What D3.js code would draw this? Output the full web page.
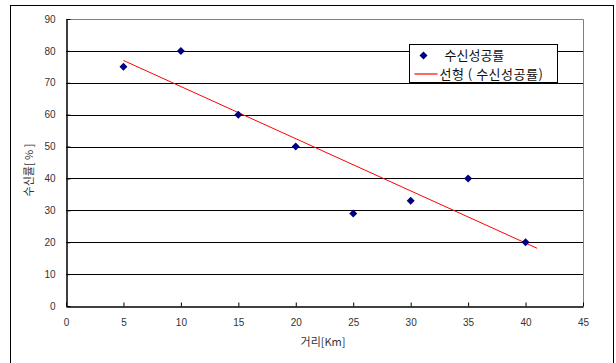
<!DOCTYPE html>
<meta charset="utf-8">
<script src="https://d3js.org/d3.v7.min.js"></script>
<style>
  body { margin: 0; background: #fff; }
  text { font-family: "Liberation Sans", Arial, "Noto Sans CJK KR", sans-serif; }
  .kr { font-family: "Noto Sans CJK KR", sans-serif; }
</style>
<div id="chart"></div>
<script>
// data
const distance = [5, 10, 15, 20, 25, 30, 35, 40];
const successRate = [75, 80, 60, 50, 29, 33, 40, 20];
const xTicks = [0, 5, 10, 15, 20, 25, 30, 35, 40, 45];
const yTicks = [0, 10, 20, 30, 40, 50, 60, 70, 80, 90];
const seriesName = "수신성공률";
const trendName = "선형 ( 수신성공률)";

const W = 616, H = 363;
const margin = {top: 19, right: 33, bottom: 57, left: 66};
const width = W - margin.left - margin.right, height = H - margin.top - margin.bottom;

const root = d3.select("#chart").append("svg")
    .attr("width", W).attr("height", H);

// outer chart border
root.append("rect")
    .attr("x", 10.5).attr("y", 5.5)
    .attr("width", 603).attr("height", 360)
    .attr("fill", "none").attr("stroke", "#000").attr("stroke-width", 1);

const svg = root.append("g").attr("transform", `translate(${margin.left}, ${margin.top})`);

const x = d3.scaleLinear().domain([0, 45]).range([0, width]);
const y = d3.scaleLinear().domain([0, 90]).range([height, 0]);

// gridlines
svg.append("g")
    .selectAll("line")
    .data(yTicks.filter(d => d > 0 && d < 90))
    .join("line")
    .attr("x1", 0).attr("x2", width)
    .attr("y1", d => Math.round(y(d)) + 0.5).attr("y2", d => Math.round(y(d)) + 0.5)
    .attr("stroke", "#000").attr("stroke-width", 1);

// plot area top/right border (gray)
svg.append("path")
    .attr("d", `M0,0.5H${width + 0.5}V${height}`)
    .attr("fill", "none").attr("stroke", "#808080");

// axes
const xAxis = svg.append("g")
    .attr("transform", `translate(0, ${height + 0.5})`)
    .call(d3.axisBottom(x).tickValues(xTicks).tickSizeInner(-4).tickSizeOuter(0).tickPadding(12));
const yAxis = svg.append("g")
    .attr("transform", "translate(0.5, 0)")
    .call(d3.axisLeft(y).tickValues(yTicks).tickSizeInner(-4).tickSizeOuter(0).tickPadding(11));

[xAxis, yAxis].forEach(a => {
    a.select(".domain").attr("stroke", "#000").attr("stroke-width", 1.5);
    a.selectAll(".tick line").attr("stroke", "#000");
    a.selectAll("text").attr("font-size", "10px").attr("fill", "#333")
        .attr("font-family", "'Liberation Sans', Arial, sans-serif");
});

// linear trendline (least squares, forecast forward 1)
const mx = d3.mean(distance), my = d3.mean(successRate);
const slope = d3.sum(distance, (d, i) => (d - mx) * (successRate[i] - my)) / d3.sum(distance, d => (d - mx) ** 2);
const icpt = my - slope * mx;
const trendX = [d3.min(distance), d3.max(distance) + 1];
svg.append("line")
    .attr("x1", x(trendX[0])).attr("y1", y(icpt + slope * trendX[0]))
    .attr("x2", x(trendX[1])).attr("y2", y(icpt + slope * trendX[1]))
    .attr("stroke", "#ff0000").attr("stroke-width", 1);

// diamond markers
const diamond = "M0,-4L4,0L0,4L-4,0Z";
svg.append("g")
    .selectAll("path")
    .data(distance)
    .join("path")
    .attr("transform", (d, i) => `translate(${x(d)}, ${y(successRate[i])})`)
    .attr("d", diamond)
    .attr("fill", "#000080");

// axis titles
root.append("text")
    .attr("class", "kr")
    .attr("x", 323).attr("y", 346)
    .attr("text-anchor", "middle")
    .attr("font-size", "11px").attr("fill", "#333")
    .text("거리[Km]");
root.append("text")
    .attr("class", "kr")
    .attr("transform", "translate(33, 170) rotate(-90)")
    .attr("text-anchor", "middle")
    .attr("font-size", "11px").attr("fill", "#333")
    .text("수신률[ % ]");

// legend
const lg = root.append("g").attr("transform", "translate(409.5, 44.5)");
lg.append("rect")
    .attr("width", 148).attr("height", 38)
    .attr("fill", "#fff").attr("stroke", "#000");
lg.append("path").attr("transform", "translate(14, 11)").attr("d", diamond).attr("fill", "#000080");
lg.append("text").attr("class", "kr")
    .attr("x", 35).attr("y", 15.5)
    .attr("font-size", "13px").attr("fill", "#111")
    .text(seriesName);
lg.append("line")
    .attr("x1", 5).attr("x2", 28).attr("y1", 29.5).attr("y2", 29.5)
    .attr("stroke", "#ff0000").attr("stroke-width", 1.2);
lg.append("text").attr("class", "kr")
    .attr("x", 30).attr("y", 34)
    .attr("font-size", "13px").attr("fill", "#111")
    .attr("letter-spacing", "0.5px")
    .text(trendName);
</script>
